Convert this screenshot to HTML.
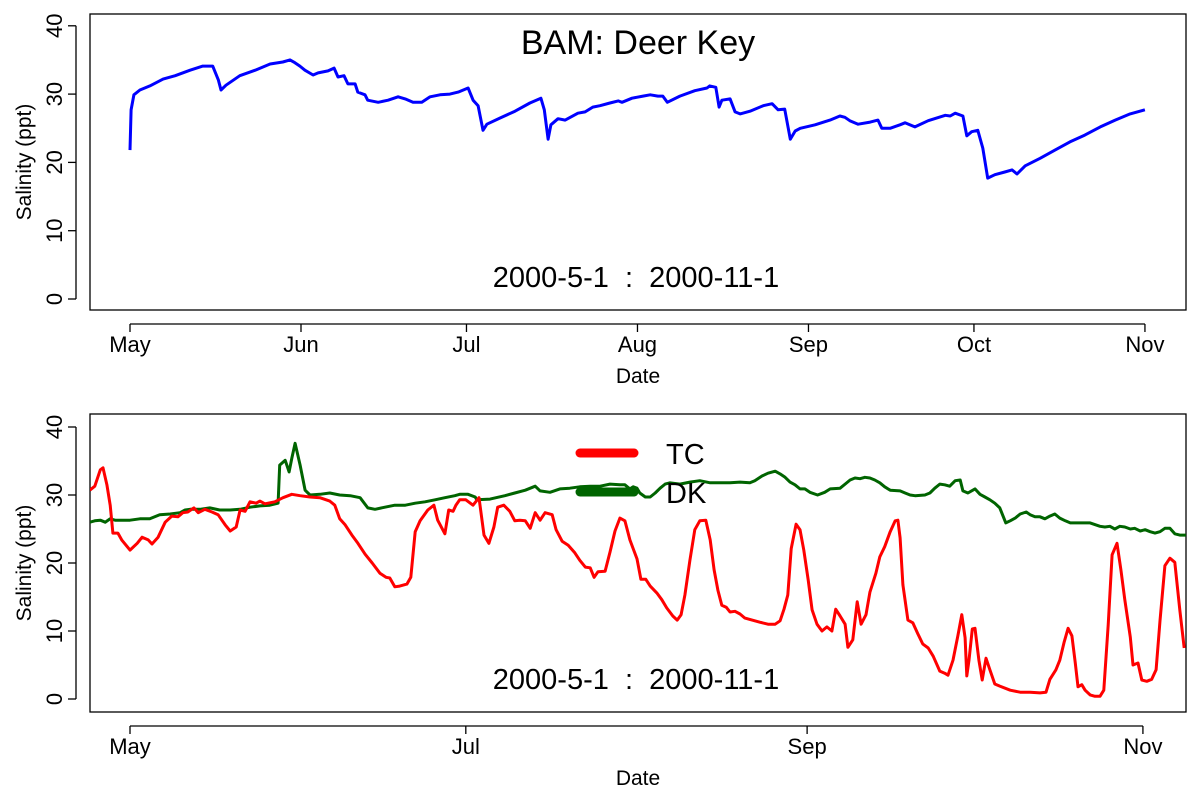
<!DOCTYPE html>
<html><head><meta charset="utf-8"><style>
html,body{margin:0;padding:0;background:#fff;}
svg text{font-family:"Liberation Sans",sans-serif;fill:#000;}
</style></head><body>
<svg id="c" width="1200" height="800" xmlns="http://www.w3.org/2000/svg"></svg>
<script>
// Top panel (BAM: Deer Key), day offset from 2000-05-01, salinity ppt
const topDays=[0,0.2,0.7,1.8,3.6,6.0,8.2,10.9,13.2,15.0,16.0,16.5,17.4,19.9,22.7,25.4,27.7,29.0,29.9,30.8,31.7,33.2,34.1,35.9,37.0,37.7,38.8,39.5,40.8,41.3,42.6,43.1,45.0,46.8,48.6,49.9,51.3,52.9,54.4,56.2,58.0,59.5,61.3,62.2,63.1,64.0,64.7,67.1,69.8,72.5,74.5,75.1,75.8,76.3,77.6,78.9,81.2,82.5,83.9,85.2,87.0,88.5,89.2,91.0,93.0,94.3,95.7,96.6,97.4,99.7,102.4,104.6,105.1,106.2,106.8,107.3,108.8,109.7,110.6,112.4,114.8,116.4,117.5,118.7,119.7,120.6,121.5,124.2,126.9,128.7,129.6,130.5,132.0,134.2,135.6,136.3,137.8,139.6,140.5,142.3,144.7,147.8,148.7,149.6,151.0,151.7,152.6,153.7,154.6,155.5,156.8,158.6,159.9,160.8,162.3,165.0,167.7,170.4,173.1,175.9,178.6,181.3,184.0];
const topVals=[21.8,27.7,29.9,30.6,31.2,32.2,32.7,33.5,34.1,34.1,32.1,30.6,31.3,32.7,33.5,34.4,34.7,35.0,34.6,34.1,33.5,32.8,33.1,33.4,33.8,32.5,32.7,31.5,31.5,30.3,29.9,29.1,28.8,29.1,29.6,29.3,28.8,28.8,29.6,29.9,30.0,30.3,30.9,29.1,28.3,24.7,25.6,26.5,27.5,28.7,29.4,27.7,23.4,25.5,26.4,26.2,27.2,27.4,28.1,28.3,28.7,29.0,28.8,29.4,29.7,29.9,29.7,29.7,28.8,29.7,30.5,30.9,31.2,31.0,28.1,29.1,29.3,27.4,27.1,27.5,28.3,28.6,27.7,27.8,23.4,24.6,25.0,25.5,26.2,26.8,26.6,26.1,25.6,25.9,26.2,25.0,25.0,25.5,25.8,25.2,26.1,26.9,26.8,27.2,26.8,23.9,24.5,24.7,22.1,17.7,18.2,18.6,18.9,18.3,19.5,20.6,21.8,23.0,24.0,25.2,26.2,27.1,27.7];
// Bottom panel: TC (red)
const tcDays=[-7.3,-6.4,-5.4,-4.9,-4.2,-3.6,-3.1,-2.2,-1.5,0,1.3,2.2,3.3,4.0,5.1,6.4,7.6,8.7,9.6,10.5,11.6,12.4,13.6,14.9,16.0,17.3,18.2,19.3,20.0,20.9,21.8,22.9,23.6,24.5,26.3,27.8,29.4,30.9,32.7,34.5,36.3,37.2,38.1,39.1,40.3,41.4,42.7,44.0,45.4,46.5,47.2,48.1,49.0,50.3,51.0,51.8,52.7,54.1,55.2,55.9,57.2,57.9,58.7,59.2,59.9,61.0,62.3,63.4,64.3,65.2,66.1,66.8,67.9,69.0,69.9,70.8,71.8,72.7,73.6,74.5,75.4,76.7,77.4,78.5,79.6,80.8,81.7,82.7,83.6,84.3,85.0,86.3,87.2,88.1,89.0,89.9,90.8,92.1,92.8,93.7,94.5,95.7,96.6,97.5,98.6,99.4,100.1,100.8,101.7,102.6,103.5,104.6,105.4,106.1,106.8,107.5,108.3,109.0,109.9,110.8,111.7,113.0,114.4,115.9,117.2,118.1,118.8,119.5,120.1,121.0,121.7,122.4,123.2,123.9,124.8,125.7,126.6,127.5,128.2,129.0,129.9,130.4,131.3,132.1,132.8,133.7,134.4,135.5,136.2,137.1,138.1,139.0,139.5,139.9,140.4,141.3,142.2,143.1,144.0,145.0,145.9,147.1,148.0,148.6,149.5,150.4,151.1,151.7,152.0,152.4,153.0,153.5,154.2,154.8,155.5,156.2,157.1,158.0,159.9,161.7,163.5,165.3,166.4,167.1,168.2,168.9,169.7,170.4,171.1,171.7,172.2,172.9,173.5,174.4,175.3,176.2,176.9,177.7,178.4,179.3,180.0,180.7,181.7,182.2,183.1,183.8,184.7,185.6,186.4,187.1,188.0,188.9,189.8,190.7,191.5];
const tcVals=[30.7,31.3,33.7,34.0,31.5,28.5,24.4,24.4,23.4,21.9,22.9,23.8,23.4,22.8,23.8,26.0,26.9,26.8,27.4,27.5,28.1,27.4,27.9,27.5,27.1,25.6,24.7,25.3,27.8,27.6,29.0,28.8,29.1,28.7,29.0,29.6,30.1,29.9,29.7,29.6,29.1,28.5,26.5,25.6,24.1,22.9,21.3,20.0,18.5,17.9,17.8,16.5,16.6,16.9,17.9,24.6,26.2,27.8,28.5,26.3,24.3,27.8,27.6,28.5,29.3,29.3,28.5,29.6,24.1,22.9,25.3,28.2,28.5,27.6,26.2,26.3,26.2,25.1,27.4,26.3,27.4,27.1,24.9,23.2,22.6,21.5,20.4,19.4,19.3,17.9,18.7,18.8,21.6,24.7,26.6,26.2,23.4,20.6,17.6,17.6,16.6,15.6,14.6,13.4,12.2,11.6,12.4,15.3,20.4,24.9,26.2,26.3,23.4,19.0,16.0,13.8,13.5,12.8,12.9,12.5,11.9,11.6,11.3,11.0,11.0,11.5,13.2,15.3,22.1,25.7,24.9,21.9,17.5,13.1,11.0,10.0,10.6,10.0,13.2,12.2,11.0,7.6,8.7,14.3,11.0,12.4,15.7,18.5,20.9,22.4,24.6,26.2,26.3,23.7,16.8,11.6,11.2,9.6,8.1,7.5,6.3,4.1,3.8,3.5,5.7,9.4,12.4,9.0,3.4,5.7,10.3,10.4,5.7,2.8,6.0,4.3,2.2,1.9,1.3,1.0,1.0,0.9,1.0,2.9,4.3,5.7,8.4,10.4,9.3,5.4,1.8,2.1,1.3,0.6,0.4,0.4,1.3,10.9,21.2,22.9,19.0,14.6,9.1,5.0,5.3,2.8,2.6,2.9,4.3,11.5,19.6,20.7,20.1,13.1,7.5];
// Bottom panel: DK (green)
const dkDays=[-7.3,-6.4,-5.4,-4.5,-3.6,-2.7,-1.8,0,1.8,3.6,5.4,7.3,9.1,10.0,10.9,12.7,14.5,16.3,18.2,20.0,21.8,23.6,25.4,26.9,27.2,28.2,28.9,29.4,30.0,30.9,31.8,32.7,34.5,36.3,38.1,40.0,41.8,43.2,44.5,46.3,48.1,50.0,51.8,53.6,55.4,57.2,59.0,59.9,61.4,62.7,63.0,65.4,68.1,69.9,71.8,73.6,74.5,76.3,78.1,79.9,81.7,83.6,85.4,87.2,89.0,89.9,90.8,91.4,92.1,92.6,93.6,94.5,95.4,96.3,97.2,98.1,99.9,101.7,103.5,105.4,107.2,109.0,110.8,112.6,113.5,114.8,115.9,117.2,118.1,119.0,119.9,120.8,121.7,122.6,123.5,124.9,126.2,127.2,129.0,129.9,130.8,131.7,132.6,133.5,134.4,135.3,136.2,137.1,138.1,139.9,140.8,141.7,142.6,144.4,145.3,146.2,147.1,148.0,148.9,149.9,150.8,151.3,152.2,153.5,154.4,155.3,156.2,157.1,158.0,159.1,159.9,160.8,161.7,162.8,163.5,164.4,165.3,166.2,167.1,168.0,168.9,169.9,170.8,172.6,174.4,176.2,177.1,178.0,178.9,179.8,180.7,181.7,182.5,183.5,184.4,185.3,186.2,187.1,188.0,188.9,189.8,190.7,191.8];
const dkVals=[26.0,26.2,26.3,26.0,26.5,26.3,26.3,26.3,26.5,26.5,27.1,27.2,27.4,27.8,27.9,27.9,28.1,27.8,27.8,27.9,28.2,28.4,28.5,28.8,34.4,35.1,33.4,35.4,37.6,34.4,30.7,30.0,30.1,30.3,30.0,29.9,29.6,28.1,27.9,28.2,28.5,28.5,28.8,29.0,29.3,29.6,29.9,30.1,30.1,29.7,29.3,29.4,29.9,30.3,30.7,31.3,30.6,30.4,30.9,31.0,31.2,31.3,31.3,31.6,31.5,31.5,30.9,31.2,31.0,30.3,29.7,29.7,30.3,31.0,31.6,31.8,31.6,31.9,32.1,31.8,31.8,31.8,31.9,31.8,32.1,32.8,33.2,33.5,33.1,32.6,31.9,31.5,30.9,30.9,30.4,30.0,30.4,30.9,31.0,31.6,32.2,32.5,32.4,32.6,32.5,32.2,31.8,31.2,30.7,30.6,30.3,30.0,29.9,30.0,30.3,31.0,31.6,31.5,31.3,32.1,32.2,30.6,30.3,30.9,30.1,29.7,29.3,28.8,28.1,25.9,26.2,26.6,27.2,27.5,27.1,26.8,26.8,26.5,26.9,27.2,26.6,26.2,25.9,25.9,25.9,25.4,25.3,25.4,25.0,25.4,25.3,25.0,25.1,24.7,24.9,24.6,24.4,24.6,25.1,25.1,24.3,24.1,24.1];
const yTicks=[0,10,20,30,40];
const topMonthLabels=["May","Jun","Jul","Aug","Sep","Oct","Nov"];
const topMonthDays=[0,31,61,92,123,153,184];
const botMonthLabels=["May","Jul","Sep","Nov"];
const botMonthDays=[0,61,123,184];

const NS="http://www.w3.org/2000/svg";
const svg=document.getElementById('c');
function mk(tag,attrs,parent){const e=document.createElementNS(NS,tag);for(const k in attrs)e.setAttribute(k,attrs[k]);(parent||svg).appendChild(e);return e;}

function panel(p){
  const g=mk('g',{});
  
  
  const x=d=>p.x0+d*p.xs;
  const y=v=>p.y0-v*p.ys;
  const box=mk('rect',{x:90,y:p.top,width:1096,height:p.bot-p.top,fill:'none',stroke:'#000','stroke-width':1.3},g);
  
  
  const clipId='clip'+p.top;
  const cp=mk('clipPath',{id:clipId},g);
  mk('rect',{x:90,y:p.top,width:1096,height:p.bot-p.top},cp);
  mk('line',{x1:76,x2:76,y1:y(0),y2:y(40),stroke:'#000','stroke-width':1.3},g);
  yTicks.forEach(t=>{
    mk('line',{x1:68,x2:76,y1:y(t),y2:y(t),stroke:'#000','stroke-width':1.3},g);
    const tx=mk('text',{x:0,y:0,'font-size':22,'text-anchor':'middle',transform:`translate(62,${y(t)}) rotate(-90)`},g);
    tx.textContent=t;
    
    
  });
  const yl=mk('text',{x:0,y:0,'font-size':21,'text-anchor':'middle',transform:`translate(31,${(p.top+p.bot)/2}) rotate(-90)`},g);
  yl.textContent='Salinity (ppt)';
  
  
  mk('line',{x1:x(p.mDays[0]),x2:x(p.mDays[p.mDays.length-1]),y1:p.bot+14,y2:p.bot+14,stroke:'#000','stroke-width':1.3},g);
  p.mDays.forEach((d,i)=>{
    mk('line',{x1:x(d),x2:x(d),y1:p.bot+14,y2:p.bot+22,stroke:'#000','stroke-width':1.3},g);
    const tx=mk('text',{x:x(d),y:p.bot+42,'font-size':22,'text-anchor':'middle'},g);
    tx.textContent=p.mLabels[i];
    
    
  });
  const xl=mk('text',{x:638,y:p.bot+73,'font-size':21,'text-anchor':'middle'},g);
  xl.textContent='Date';
  
  
  const rng=mk('text',{x:636,y:p.bot-23,'font-size':29,'text-anchor':'middle'},g);
  rng.textContent='2000-5-1\u00a0\u00a0:\u00a0\u00a02000-11-1';
  
  
  p.series.forEach(s=>{
    const pts=s.d.map((d,i)=>x(d).toFixed(1)+','+y(s.v[i]).toFixed(1)).join(' ');
    const pl=mk('polyline',{points:pts,fill:'none',stroke:s.c,'stroke-width':3,'stroke-linejoin':'round','clip-path':`url(#${clipId})`},g);
    
    
  });
  return g;
}
panel({name:'top-panel',top:14,bot:310,x0:130,xs:5.516,y0:299,ys:6.83,mDays:topMonthDays,mLabels:topMonthLabels,
  series:[{d:topDays,v:topVals,c:'#0000ff',name:'deer-key-salinity-line'}]});
panel({name:'bottom-panel',top:414,bot:712,x0:130,xs:5.505,y0:699,ys:6.8,mDays:botMonthDays,mLabels:botMonthLabels,
  series:[{d:dkDays,v:dkVals,c:'#006400',name:'dk-salinity-line'},{d:tcDays,v:tcVals,c:'#ff0000',name:'tc-salinity-line'}]});

const title=mk('text',{x:638,y:54,'font-size':34,'text-anchor':'middle'});
title.textContent='BAM: Deer Key';


const leg=mk('g',{});


[['TC','#ff0000',453],['DK','#006400',492]].forEach(([n,c,yy])=>{
  const ln=mk('line',{x1:580,x2:634,y1:yy,y2:yy,stroke:c,'stroke-width':9,'stroke-linecap':'round'},leg);
  
  
  const t=mk('text',{x:666,y:yy+11,'font-size':29},leg);
  t.textContent=n;
  
  
});
</script>
</body></html>
